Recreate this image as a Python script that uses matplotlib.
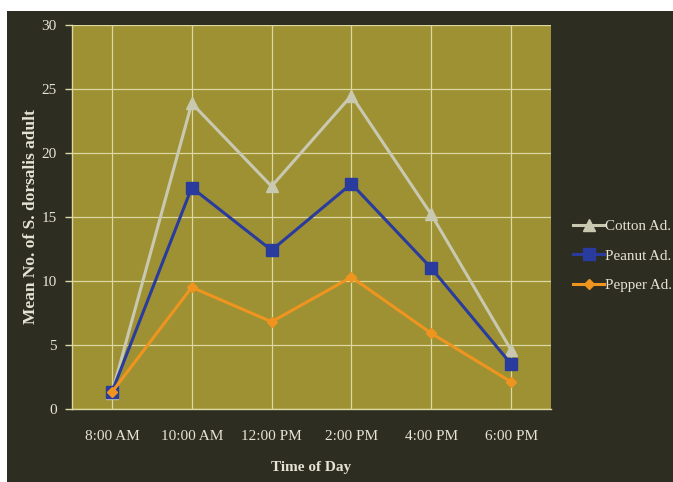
import matplotlib
matplotlib.use("Agg")
import matplotlib.pyplot as plt
from matplotlib.patches import Rectangle

times = ["8:00 AM", "10:00 AM", "12:00 PM", "2:00 PM", "4:00 PM", "6:00 PM"]
cotton = [1.2, 23.9, 17.4, 24.5, 15.2, 4.6]
peanut = [1.3, 17.3, 12.4, 17.6, 11.0, 3.5]
pepper = [1.3, 9.5, 6.8, 10.3, 5.9, 2.1]

BG = "#2d2d22"
PLOT = "#9e9133"
GRID = "#ddd8a0"
TXT = "#e6e4d4"
FS = 11

plt.rcParams["font.family"] = ["Liberation Serif", "DejaVu Serif"]

fig = plt.figure(figsize=(6.73, 4.82), dpi=100)
fig.patch.set_facecolor("white")
fig.patches.append(Rectangle((7 / 673, 0), 1 - 7 / 673, 1 - 11 / 482,
                             transform=fig.transFigure, facecolor=BG,
                             edgecolor="none", zorder=-10))

ax = fig.add_axes([72 / 673, 1 - 408.7 / 482, (551 - 72) / 673, (408.7 - 25.3) / 482])
ax.set_facecolor(PLOT)

x = list(range(len(times)))
ax.plot(x, cotton, color="#c9c8b0", lw=2.2, marker="^", ms=8.5, label="Cotton Ad.", zorder=3)
ax.plot(x, peanut, color="#2a3b9e", lw=2.2, marker="s", ms=8.5, label="Peanut Ad.", zorder=4)
ax.plot(x, pepper, color="#ef951f", lw=2.2, marker="D", ms=5.5, label="Pepper Ad.", zorder=5)

ax.set_xlim(-0.5, len(times) - 0.5)
ax.set_ylim(0, 30)
ax.set_yticks(range(0, 31, 5))
ax.set_xticks(x)
ax.set_xticklabels(times)

ax.grid(True, color=GRID, lw=0.9)
ax.set_axisbelow(True)
for s in ["top", "right"]:
    ax.spines[s].set_visible(False)
for s in ["left", "bottom"]:
    ax.spines[s].set_color(GRID)
    ax.spines[s].set_linewidth(1.0)

ax.tick_params(axis="y", colors=TXT, labelsize=FS, length=5, width=1.0, color=GRID, pad=6)
ax.tick_params(axis="x", colors=TXT, labelsize=FS, length=0, pad=15)

ax.set_ylabel("Mean No. of S. dorsalis adult", color=TXT, fontsize=12.5, fontweight="bold", labelpad=2)
ax.set_xlabel("Time of Day", color=TXT, fontsize=11, fontweight="bold", labelpad=13)

leg = ax.legend(loc="upper left", bbox_to_anchor=(1.033, 0.509), frameon=False,
                fontsize=10.8, handlelength=2.1, handletextpad=0.05, labelspacing=1.08,
                borderaxespad=0)
for t in leg.get_texts():
    t.set_color(TXT)

fig.savefig("out.png", dpi=100, facecolor=fig.get_facecolor())
